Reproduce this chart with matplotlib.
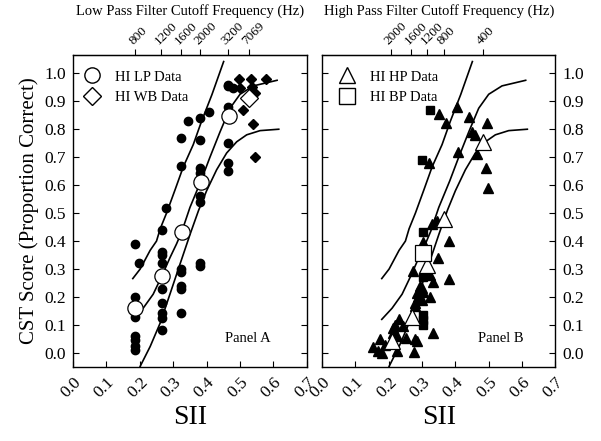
import matplotlib
matplotlib.use("Agg")
import matplotlib.pyplot as plt
from matplotlib.lines import Line2D

plt.rcParams['font.family'] = ['Liberation Serif', 'DejaVu Serif']

# ---- panel A : low pass / wide band ----
lp_x = [0.187] * 7 + [0.198] + [0.265] * 9 + [0.279] + [0.323] * 7 + [0.343] \
    + [0.381] * 8 + [0.406] + [0.464] * 6 + [0.48]
lp_y = [0.39, 0.20, 0.13, 0.06, 0.045, 0.025, 0.01,
        0.32,
        0.44, 0.36, 0.35, 0.32, 0.23, 0.18, 0.143, 0.125, 0.083,
        0.52,
        0.77, 0.67, 0.30, 0.29, 0.24, 0.23, 0.142,
        0.83,
        0.84, 0.76, 0.663, 0.645, 0.56, 0.54, 0.32, 0.31,
        0.86,
        0.953, 0.959, 0.88, 0.75, 0.68, 0.65,
        0.947]
lp_mean_x = [0.187, 0.266, 0.326, 0.383, 0.466]
lp_mean_y = [0.16, 0.275, 0.432, 0.61, 0.846]

wb_x = [0.496, 0.533, 0.578, 0.50, 0.536, 0.546, 0.509, 0.538, 0.546]
wb_y = [0.98, 0.98, 0.98, 0.947, 0.95, 0.93, 0.87, 0.82, 0.70]
wb_mean_x = [0.526]
wb_mean_y = [0.91]

lp_freq_pos = [0.186, 0.264, 0.324, 0.381, 0.463, 0.526]
lp_freq_lab = ['800', '1200', '1600', '2000', '3200', '7069']

# ---- panel B : high pass / band pass ----
hp_x = [0.352, 0.371, 0.404, 0.442, 0.496, 0.449, 0.459, 0.407, 0.464, 0.491,
        0.499, 0.321, 0.329, 0.339, 0.344, 0.381, 0.302, 0.349, 0.272, 0.324,
        0.382, 0.334, 0.294, 0.299, 0.304, 0.284, 0.289, 0.324, 0.299, 0.279,
        0.279, 0.332, 0.232, 0.212, 0.219, 0.242, 0.214, 0.224, 0.252, 0.279,
        0.284, 0.189, 0.174, 0.154, 0.169, 0.179, 0.224, 0.277]
hp_y = [0.853, 0.823, 0.88, 0.843, 0.823, 0.79, 0.78, 0.72, 0.71, 0.66,
        0.59, 0.68, 0.46, 0.467, 0.473, 0.40, 0.396, 0.34, 0.293, 0.28,
        0.266, 0.254, 0.239, 0.231, 0.219, 0.213, 0.20, 0.20, 0.19, 0.178,
        0.168, 0.071, 0.12, 0.089, 0.10, 0.097, 0.071, 0.061, 0.053, 0.05,
        0.041, 0.03, 0.05, 0.021, 0.006, 0.0, 0.006, 0.002]
hp_mean_x = [0.209, 0.269, 0.314, 0.367, 0.482]
hp_mean_y = [0.041, 0.13, 0.314, 0.48, 0.754]

bp_x = [0.324, 0.301, 0.302, 0.304, 0.304, 0.304, 0.304]
bp_y = [0.867, 0.69, 0.432, 0.27, 0.136, 0.118, 0.10]
bp_mean_x = [0.302]
bp_mean_y = [0.357]

hp_freq_pos = [0.206, 0.266, 0.315, 0.366, 0.482]
hp_freq_lab = ['2000', '1600', '1200', '800', '400']

# ---- fitted curves ----
top_x = [0.179, 0.201, 0.231, 0.25, 0.261, 0.28, 0.306, 0.33, 0.36, 0.385, 0.416, 0.451]
top_y = [0.266, 0.30, 0.367, 0.40, 0.444, 0.50, 0.585, 0.665, 0.745, 0.829, 0.924, 1.042]
mid_x = [0.179, 0.21, 0.24, 0.266, 0.29, 0.31, 0.326, 0.35, 0.383, 0.41, 0.44,
         0.47, 0.50, 0.54, 0.611]
mid_y = [0.12, 0.16, 0.21, 0.275, 0.34, 0.39, 0.435, 0.52, 0.615, 0.70, 0.79,
         0.875, 0.925, 0.955, 0.975]
bot_x = [0.201, 0.231, 0.261, 0.291, 0.321, 0.351, 0.376, 0.40, 0.43, 0.46,
         0.49, 0.52, 0.56, 0.616]
bot_y = [-0.048, 0.023, 0.107, 0.213, 0.32, 0.426, 0.51, 0.58, 0.655, 0.715,
         0.755, 0.78, 0.795, 0.80]


def setup(ax, freq_pos, freq_lab, title, right):
    ax.set_xlim(0, 0.7)
    ax.set_ylim(-0.05, 1.065)
    ax.set_xticks([i / 10 for i in range(8)])
    ax.set_xticklabels(['%.1f' % (i / 10) for i in range(8)], rotation=45,
                       ha='right', rotation_mode='anchor')
    ax.set_yticks([i / 10 for i in range(11)])
    ax.set_yticklabels(['%.1f' % (i / 10) for i in range(11)])
    ax.tick_params(direction='in', length=4, width=0.8, labelsize=12.5,
                   left=True, right=True, top=False, bottom=True,
                   labelleft=not right, labelright=right, pad=5)
    for s in ax.spines.values():
        s.set_linewidth(1.0)
    sec = ax.secondary_xaxis('top')
    sec.set_xticks(freq_pos)
    sec.set_xticklabels(freq_lab, rotation=45, ha='left', rotation_mode='anchor')
    sec.tick_params(direction='out', length=4, width=0.8, labelsize=9.5, pad=2)
    sec.set_xlabel(title, fontsize=10.5, labelpad=3)
    ax.set_xlabel('SII', fontsize=20, labelpad=3)
    for cx, cy in [(top_x, top_y), (mid_x, mid_y), (bot_x, bot_y)]:
        ax.plot(cx, cy, color='black', lw=1.2, zorder=2)


fig = plt.figure(figsize=(6.01, 4.41), dpi=100)
axA = fig.add_axes([0.1215, 0.168, 0.389, 0.707])
axB = fig.add_axes([0.536, 0.168, 0.388, 0.707])

setup(axA, lp_freq_pos, lp_freq_lab, 'Low Pass Filter Cutoff Frequency (Hz)', False)
setup(axB, hp_freq_pos, hp_freq_lab, 'High Pass Filter Cutoff Frequency (Hz)', True)
axA.set_ylabel('CST Score (Proportion Correct)', fontsize=15, labelpad=4)

axA.plot(lp_x, lp_y, 'o', color='black', ms=6, zorder=3)
axA.plot(wb_x, wb_y, 'D', color='black', ms=5.2, zorder=3)
axA.plot(lp_mean_x, lp_mean_y, 'o', mfc='white', mec='black', mew=0.9, ms=11, zorder=4)
axA.plot(wb_mean_x, wb_mean_y, 'D', mfc='white', mec='black', mew=0.9, ms=9, zorder=4)

axB.plot(hp_x, hp_y, '^', color='black', ms=6.5, zorder=3)
axB.plot(bp_x, bp_y, 's', color='black', ms=5.2, zorder=3)
axB.plot(hp_mean_x, hp_mean_y, '^', mfc='white', mec='black', mew=0.9, ms=12, zorder=4)
axB.plot(bp_mean_x, bp_mean_y, 's', mfc='white', mec='black', mew=0.9, ms=11, zorder=4)

legA = [Line2D([], [], ls='', marker='o', mfc='white', mec='black', ms=11, label='HI LP Data'),
        Line2D([], [], ls='', marker='D', mfc='white', mec='black', ms=9, label='HI WB Data')]
legB = [Line2D([], [], ls='', marker='^', mfc='white', mec='black', ms=12, label='HI HP Data'),
        Line2D([], [], ls='', marker='s', mfc='white', mec='black', ms=11, label='HI BP Data')]
for ax, h, dx in [(axA, legA, 0.0), (axB, legB, 0.025)]:
    ax.legend(handles=h, loc='upper left', frameon=False, fontsize=10.5,
              handlelength=1.2, handletextpad=1.0, labelspacing=0.5,
              borderaxespad=0.3, bbox_to_anchor=(dx, 0.984))

axA.text(0.65, 0.08, 'Panel A', transform=axA.transAxes, fontsize=10.5)
axB.text(0.67, 0.08, 'Panel B', transform=axB.transAxes, fontsize=10.5)

fig.savefig('out.png', dpi=100)
